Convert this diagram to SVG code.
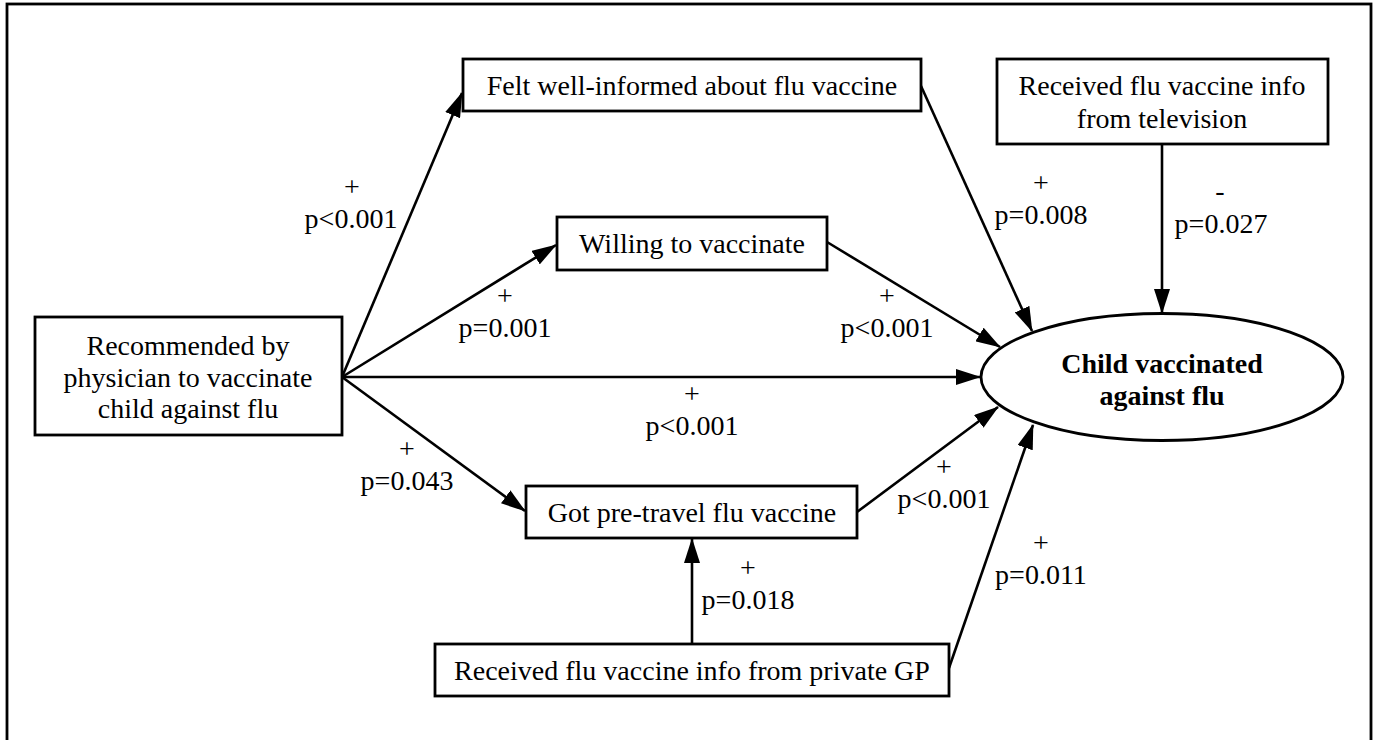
<svg xmlns="http://www.w3.org/2000/svg" width="1378" height="740" viewBox="0 0 1378 740">
<style>
.box{fill:#fff;stroke:#000;stroke-width:2.8}
.t{font-family:"Liberation Serif","Times New Roman",serif;font-size:28px;fill:#000;text-anchor:middle}
.b{font-weight:bold}
.e{stroke:#000;stroke-width:2.6;fill:none;marker-end:url(#ah)}
.l{font-family:"Liberation Serif","Times New Roman",serif;font-size:28px;fill:#000;text-anchor:middle}
</style>
<defs>
<marker id="ah" viewBox="0 0 25 16" refX="24" refY="8" markerWidth="25" markerHeight="16" markerUnits="userSpaceOnUse" orient="auto">
<path d="M0,0 L25,8 L0,16 z" fill="#000"/>
</marker>
</defs>
<rect width="1378" height="740" fill="#fff"/>
<rect x="7" y="4" width="1364" height="760" fill="none" stroke="#000" stroke-width="2.8"/>
<g id="connectors">
<line class="e" x1="342" y1="377" x2="462" y2="93"/>
<line class="e" x1="342" y1="377" x2="556" y2="245"/>
<line class="e" x1="342" y1="377" x2="980" y2="377"/>
<line class="e" x1="342" y1="377" x2="525" y2="511"/>
<line class="e" x1="921" y1="86" x2="1032" y2="331"/>
<line class="e" x1="827" y1="242" x2="1000" y2="347"/>
<line class="e" x1="1162" y1="144" x2="1162" y2="313"/>
<line class="e" x1="857" y1="512" x2="998" y2="407"/>
<line class="e" x1="692" y1="644" x2="692" y2="539"/>
<line class="e" x1="949" y1="668" x2="1033" y2="425"/>
</g>
<g id="edge-labels">
<text class="l" x="352" y="196">+</text>
<text class="l" x="351" y="228">p&lt;0.001</text>
<text class="l" x="505" y="305">+</text>
<text class="l" x="505" y="337">p=0.001</text>
<text class="l" x="692" y="403">+</text>
<text class="l" x="692" y="435">p&lt;0.001</text>
<text class="l" x="407" y="458">+</text>
<text class="l" x="407" y="490">p=0.043</text>
<text class="l" x="1041" y="192">+</text>
<text class="l" x="1041" y="224">p=0.008</text>
<text class="l" x="887" y="305">+</text>
<text class="l" x="887" y="337">p&lt;0.001</text>
<text class="l" x="1220" y="200">-</text>
<text class="l" x="1221" y="233">p=0.027</text>
<text class="l" x="944" y="476">+</text>
<text class="l" x="944" y="508">p&lt;0.001</text>
<text class="l" x="748" y="577">+</text>
<text class="l" x="748" y="609">p=0.018</text>
<text class="l" x="1041" y="552">+</text>
<text class="l" x="1041" y="584">p=0.011</text>
</g>
<g id="felt">
<rect class="box" x="463" y="59" width="458" height="52"/>
<text class="t" x="692" y="95">Felt well-informed about flu vaccine</text>
</g>
<g id="television">
<rect class="box" x="997" y="59" width="331" height="85"/>
<text class="t" x="1162" y="95">Received flu vaccine info</text>
<text class="t" x="1162" y="128">from television</text>
</g>
<g id="willing">
<rect class="box" x="557" y="217" width="270" height="53"/>
<text class="t" x="692" y="253">Willing to vaccinate</text>
</g>
<g id="recommended">
<rect class="box" x="35" y="317" width="307" height="118"/>
<text class="t" x="188" y="355">Recommended by</text>
<text class="t" x="188" y="387">physician to vaccinate</text>
<text class="t" x="188" y="418">child against flu</text>
</g>
<g id="child">
<ellipse class="box" cx="1162" cy="377" rx="181" ry="63.5"/>
<text class="t b" x="1162" y="373">Child vaccinated</text>
<text class="t b" x="1162" y="405">against flu</text>
</g>
<g id="pretravel">
<rect class="box" x="526" y="486" width="331" height="52"/>
<text class="t" x="692" y="522">Got pre-travel flu vaccine</text>
</g>
<g id="gp">
<rect class="box" x="435" y="644" width="514" height="52"/>
<text class="t" x="692" y="680">Received flu vaccine info from private GP</text>
</g>
</svg>
